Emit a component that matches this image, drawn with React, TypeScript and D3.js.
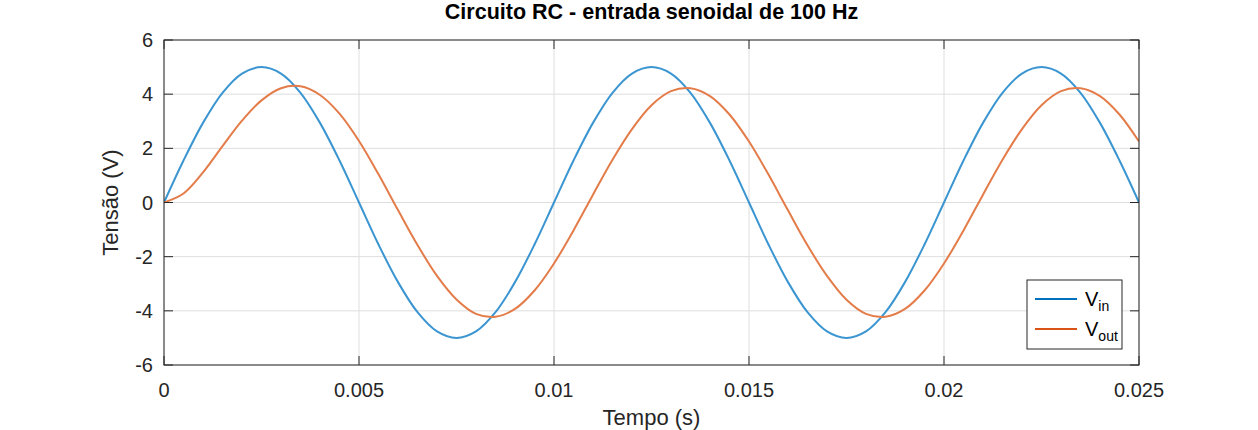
import * as d3 from "d3";

const W = 1258;
const H = 430;
const MARGIN = { top: 40, right: 119, bottom: 65, left: 164 };

// time samples (s), read at 0.5 ms spacing
const tempo = [
  0, 0.0005, 0.001, 0.0015, 0.002, 0.0025, 0.003, 0.0035, 0.004, 0.0045,
  0.005, 0.0055, 0.006, 0.0065, 0.007, 0.0075, 0.008, 0.0085, 0.009, 0.0095,
  0.01, 0.0105, 0.011, 0.0115, 0.012, 0.0125, 0.013, 0.0135, 0.014, 0.0145,
  0.015, 0.0155, 0.016, 0.0165, 0.017, 0.0175, 0.018, 0.0185, 0.019, 0.0195,
  0.02, 0.0205, 0.021, 0.0215, 0.022, 0.0225, 0.023, 0.0235, 0.024, 0.0245,
  0.025,
];

const vin = [
  0, 1.55, 2.94, 4.05, 4.76, 5, 4.76, 4.05, 2.94, 1.55,
  0, -1.55, -2.94, -4.05, -4.76, -5, -4.76, -4.05, -2.94, -1.55,
  0, 1.55, 2.94, 4.05, 4.76, 5, 4.76, 4.05, 2.94, 1.55,
  0, -1.55, -2.94, -4.05, -4.76, -5, -4.76, -4.05, -2.94, -1.55,
  0, 1.55, 2.94, 4.05, 4.76, 5, 4.76, 4.05, 2.94, 1.55,
  0,
];

const vout = [
  0, 0.33, 1.11, 2.08, 3.02, 3.77, 4.22, 4.29, 3.97, 3.28,
  2.27, 1.04, -0.28, -1.57, -2.71, -3.58, -4.11, -4.22, -3.93, -3.25,
  -2.25, -1.03, 0.29, 1.58, 2.71, 3.59, 4.11, 4.22, 3.93, 3.25,
  2.25, 1.03, -0.29, -1.58, -2.71, -3.59, -4.11, -4.22, -3.93, -3.25,
  -2.25, -1.03, 0.29, 1.58, 2.71, 3.59, 4.11, 4.22, 3.93, 3.25,
  2.25,
];

const xTicks = [0, 0.005, 0.01, 0.015, 0.02, 0.025];
const xTickLabels = ["0", "0.005", "0.01", "0.015", "0.02", "0.025"];
const yTicks = [-6, -4, -2, 0, 2, 4, 6];

const series = [
  { name: "V", sub: "in", values: vin, color: "#3a95d1", legend: "#0072bd" },
  { name: "V", sub: "out", values: vout, color: "#e47c4a", legend: "#d95319" },
];

const FONT = "'Liberation Sans', Arial, Helvetica, sans-serif";
const AXIS = "#262626";

export default function App() {
  const boundsWidth = W - MARGIN.left - MARGIN.right;
  const boundsHeight = H - MARGIN.top - MARGIN.bottom;

  const xScale = d3.scaleLinear().domain([0, 0.025]).range([0, boundsWidth]);
  const yScale = d3.scaleLinear().domain([-6, 6]).range([boundsHeight, 0]);

  const line = d3
    .line<number>()
    .x((_, i) => xScale(tempo[i]))
    .y((d) => yScale(d))
    .curve(d3.curveCatmullRom.alpha(0.5));

  const tickLen = 9;

  return (
    <svg width={W} height={H} style={{ position: "absolute", left: 0, top: 0, background: "#fff" }}>
      <defs>
        <clipPath id="plot-clip">
          <rect x={0} y={0} width={boundsWidth} height={boundsHeight} />
        </clipPath>
      </defs>
      <g transform={`translate(${MARGIN.left},${MARGIN.top})`} fontFamily={FONT}>
        {/* grid */}
        {xTicks.map((t) => (
          <line key={"gx" + t} x1={xScale(t)} x2={xScale(t)} y1={0} y2={boundsHeight} stroke="#dedede" strokeWidth={1} />
        ))}
        {yTicks.map((t) => (
          <line key={"gy" + t} x1={0} x2={boundsWidth} y1={yScale(t)} y2={yScale(t)} stroke="#dedede" strokeWidth={1} />
        ))}

        {/* curves */}
        <g clipPath="url(#plot-clip)">
          {series.map((s) => (
            <path key={s.sub} d={line(s.values) ?? ""} fill="none" stroke={s.color} strokeWidth={2} />
          ))}
        </g>

        {/* box + ticks */}
        <rect x={0} y={0} width={boundsWidth} height={boundsHeight} fill="none" stroke={AXIS} strokeWidth={1} />
        {xTicks.map((t) => (
          <g key={"tx" + t}>
            <line x1={xScale(t)} x2={xScale(t)} y1={boundsHeight} y2={boundsHeight - tickLen} stroke={AXIS} />
            <line x1={xScale(t)} x2={xScale(t)} y1={0} y2={tickLen} stroke={AXIS} />
          </g>
        ))}
        {yTicks.map((t) => (
          <g key={"ty" + t}>
            <line x1={0} x2={tickLen} y1={yScale(t)} y2={yScale(t)} stroke={AXIS} />
            <line x1={boundsWidth} x2={boundsWidth - tickLen} y1={yScale(t)} y2={yScale(t)} stroke={AXIS} />
          </g>
        ))}

        {/* tick labels */}
        {xTicks.map((t, i) => (
          <text key={"lx" + t} x={xScale(t)} y={boundsHeight + 32} textAnchor="middle" fontSize={20} fill={AXIS}>
            {xTickLabels[i]}
          </text>
        ))}
        {yTicks.map((t) => (
          <text key={"ly" + t} x={-11} y={yScale(t) + 7} textAnchor="end" fontSize={20} fill={AXIS}>
            {t}
          </text>
        ))}

        {/* axis labels */}
        <text x={boundsWidth / 2} y={boundsHeight + 60} textAnchor="middle" fontSize={22} fill={AXIS}>
          Tempo (s)
        </text>
        <text
          transform={`translate(${-46},${boundsHeight / 2}) rotate(-90)`}
          textAnchor="middle"
          fontSize={22}
          fill={AXIS}
        >
          Tensão (V)
        </text>

        {/* title */}
        <text x={boundsWidth / 2} y={-21} textAnchor="middle" fontSize={21.5} fontWeight="bold" fill="#000">
          Circuito RC - entrada senoidal de 100 Hz
        </text>

        {/* legend */}
        <g transform={`translate(${boundsWidth - 112},${240})`}>
          <rect x={0} y={0} width={95} height={69} fill="#fff" stroke={AXIS} strokeWidth={1} />
          {series.map((s, i) => (
            <g key={"lg" + s.sub} transform={`translate(0,${19 + i * 30})`}>
              <line x1={8} x2={50} y1={0} y2={0} stroke={s.legend} strokeWidth={2} />
              <text x={58} y={7} fontSize={20} fill="#000">
                {s.name}
                <tspan fontSize={14} dy={5}>
                  {s.sub}
                </tspan>
              </text>
            </g>
          ))}
        </g>
      </g>
    </svg>
  );
}
